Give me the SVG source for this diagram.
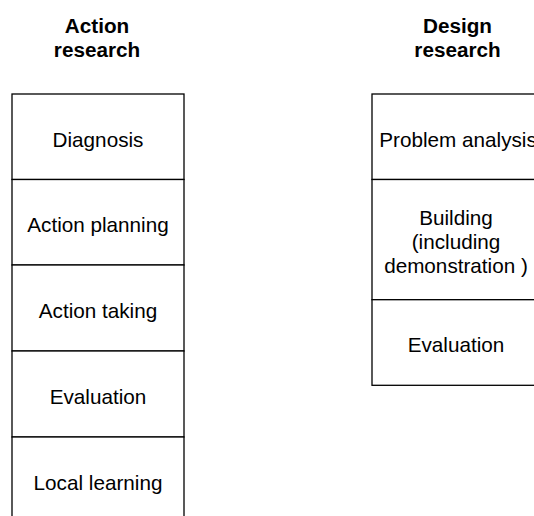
<svg xmlns="http://www.w3.org/2000/svg" width="534" height="516" viewBox="0 0 534 516">
<style>
.box{fill:#fff;stroke:#000;stroke-width:1.3}
.t{font-family:"Liberation Sans",Arial,sans-serif;font-size:20.7px;fill:#000;text-anchor:middle}
.h{font-weight:bold}
</style>
<rect width="534" height="516" fill="#fff"/>
<g id="title-action"><text class="t h" x="97" y="33">Action</text><text class="t h" x="97" y="57">research</text></g>
<g id="title-design"><text class="t h" x="457.5" y="33">Design</text><text class="t h" x="457.5" y="57">research</text></g>
<g id="ar-diagnosis"><rect class="box" x="12" y="94" width="172" height="85.5"/><text class="t" x="98" y="146.7">Diagnosis</text></g>
<g id="ar-planning"><rect class="box" x="12" y="179.5" width="172" height="85.5"/><text class="t" x="98" y="232.3">Action planning</text></g>
<g id="ar-taking"><rect class="box" x="12" y="265" width="172" height="86"/><text class="t" x="98" y="318.3">Action taking</text></g>
<g id="ar-evaluation"><rect class="box" x="12" y="351" width="172" height="86"/><text class="t" x="98" y="404">Evaluation</text></g>
<g id="ar-learning"><rect class="box" x="12" y="437" width="172" height="86"/><text class="t" x="98" y="490">Local learning</text></g>
<g id="dr-problem"><rect class="box" x="372" y="94" width="172" height="85.5"/><text class="t" x="458" y="146.7">Problem analysis</text></g>
<g id="dr-building"><rect class="box" x="372" y="179.5" width="172" height="120.2"/><text class="t" x="456" y="225">Building</text><text class="t" x="456" y="248.5">(including</text><text class="t" x="456" y="272.5">demonstration )</text></g>
<g id="dr-evaluation"><rect class="box" x="372" y="299.7" width="172" height="85.6"/><text class="t" x="456" y="351.7">Evaluation</text></g>
<g id="connectors"></g>
</svg>
